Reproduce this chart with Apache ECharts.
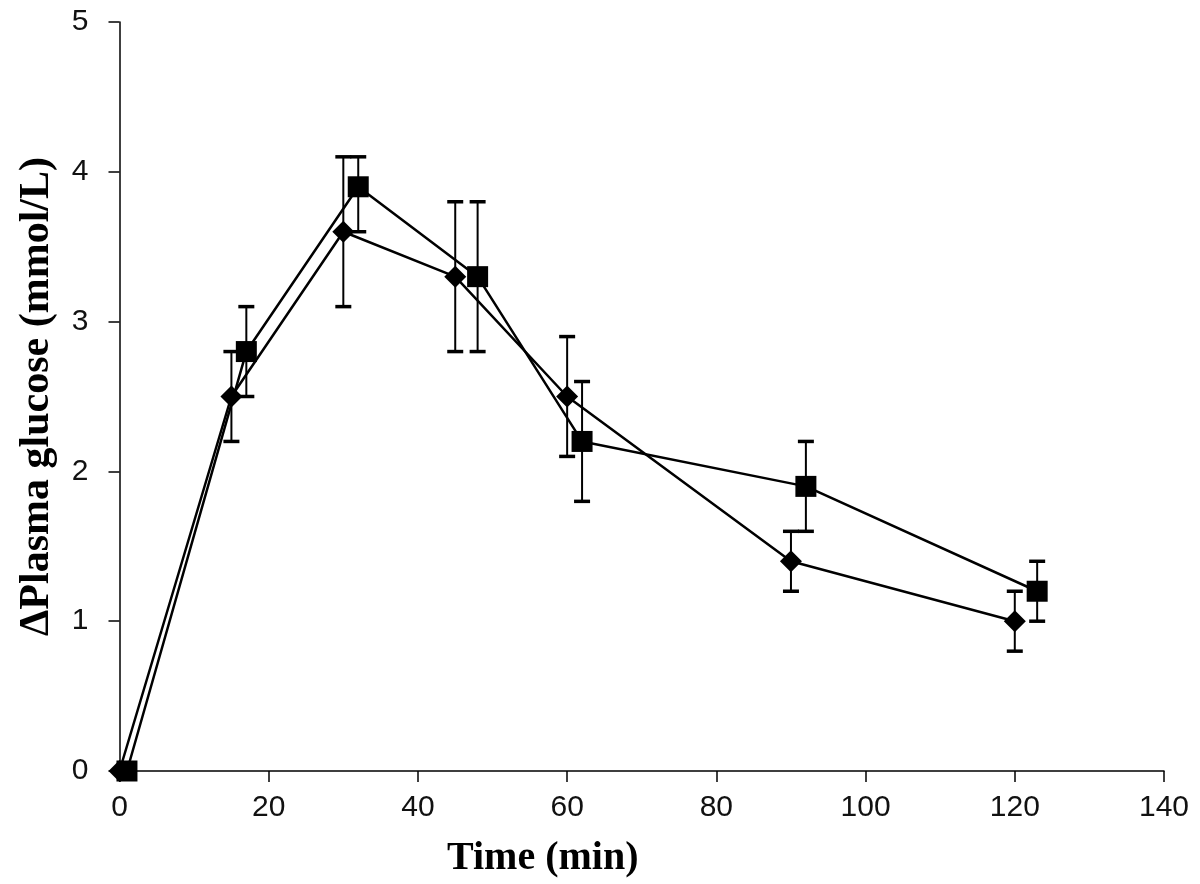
<!DOCTYPE html>
<html>
<head>
<meta charset="utf-8">
<script src="https://cdn.jsdelivr.net/npm/echarts@6/dist/echarts.min.js"></script>
<style>
html, body { margin: 0; padding: 0; background: #fff; }
#chart { width: 1200px; height: 884px; }
</style>
</head>
<body>
<div id="chart"></div>
<script>
// diamonds
var timeA = [0, 15, 30, 45, 60, 90, 120]
var meanA = [0, 2.5, 3.6, 3.3, 2.5, 1.4, 1.0]
var lowA  = [0, 2.2, 3.1, 2.8, 2.1, 1.2, 0.8]
var highA = [0, 2.8, 4.1, 3.8, 2.9, 1.6, 1.2]
// squares
var timeB = [1, 17, 32, 48, 62, 92, 123]
var meanB = [0, 2.8, 3.9, 3.3, 2.2, 1.9, 1.2]
var lowB  = [0, 2.5, 3.6, 2.8, 1.8, 1.6, 1.0]
var highB = [0, 3.1, 4.1, 3.8, 2.6, 2.2, 1.4]

var xTicks = [0, 20, 40, 60, 80, 100, 120, 140]
var yTicks = [0, 1, 2, 3, 4, 5]

function pairs(xs, ys) {
    return xs.map(function (x, i) { return [x, ys[i]] })
}
function errData(xs, lo, hi) {
    var out = []
    xs.forEach(function (x, i) {
        if (hi[i] > lo[i]) out.push([x, lo[i], hi[i]])
    })
    return out
}

function renderErr(params, api) {
    var x = api.value(0)
    var top = api.coord([x, api.value(2)])
    var bot = api.coord([x, api.value(1)])
    var half = 8
    var st = { stroke: '#000', lineWidth: 2 }
    var cap = { stroke: '#000', lineWidth: 3.5 }
    return {
        type: 'group',
        children: [
            { type: 'line', shape: { x1: top[0], y1: top[1], x2: bot[0], y2: bot[1] }, style: st },
            { type: 'line', shape: { x1: top[0] - half, y1: top[1], x2: top[0] + half, y2: top[1] }, style: cap },
            { type: 'line', shape: { x1: bot[0] - half, y1: bot[1], x2: bot[0] + half, y2: bot[1] }, style: cap }
        ]
    }
}

var chart = echarts.init(document.getElementById('chart'))
var labelFont = { fontFamily: 'Liberation Sans', fontSize: 30, color: '#111' }

var option = {
    backgroundColor: '#fff',
    animation: false,
    grid: { left: 119.5, right: 36, top: 22, bottom: 112.5 },
    xAxis: {
        type: 'value',
        min: xTicks[0],
        max: xTicks[xTicks.length - 1],
        interval: 20,
        name: 'Time (min)',
        nameLocation: 'middle',
        nameGap: 68,
        nameTextStyle: {
            fontFamily: 'Liberation Serif', fontWeight: 'bold', fontSize: 40, color: '#000',
            padding: [0, 198, 0, 0]
        },
        axisLine: { show: true, onZero: false, lineStyle: { color: '#000', width: 1.5 } },
        axisTick: { show: true, length: 11, lineStyle: { color: '#000', width: 1.5 } },
        axisLabel: Object.assign({ margin: 22 }, labelFont),
        splitLine: { show: false }
    },
    yAxis: {
        type: 'value',
        min: yTicks[0],
        max: yTicks[yTicks.length - 1],
        interval: 1,
        name: 'ΔPlasma glucose (mmol/L)',
        nameLocation: 'middle',
        nameGap: 61,
        nameTextStyle: { fontFamily: 'Liberation Serif', fontWeight: 'bold', fontSize: 42, color: '#000' },
        axisLine: { show: true, lineStyle: { color: '#000', width: 1.5 } },
        axisTick: { show: true, length: 11, lineStyle: { color: '#000', width: 1.5 } },
        axisLabel: Object.assign({ margin: 31 }, labelFont),
        splitLine: { show: false }
    },
    series: [
        {
            type: 'custom',
            renderItem: renderErr,
            data: errData(timeA, lowA, highA),
            clip: false,
            z: 1
        },
        {
            type: 'custom',
            renderItem: renderErr,
            data: errData(timeB, lowB, highB),
            clip: false,
            z: 1
        },
        {
            name: 'A',
            type: 'line',
            data: pairs(timeA, meanA),
            symbol: 'diamond',
            symbolSize: [22, 22],
            showAllSymbol: true,
            lineStyle: { color: '#000', width: 2.5 },
            itemStyle: { color: '#000' },
            clip: false,
            z: 3
        },
        {
            name: 'B',
            type: 'line',
            data: pairs(timeB, meanB),
            symbol: 'rect',
            symbolSize: 21,
            showAllSymbol: true,
            lineStyle: { color: '#000', width: 2.5 },
            itemStyle: { color: '#000' },
            clip: false,
            z: 3
        }
    ]
}
chart.setOption(option)
</script>
</body>
</html>
